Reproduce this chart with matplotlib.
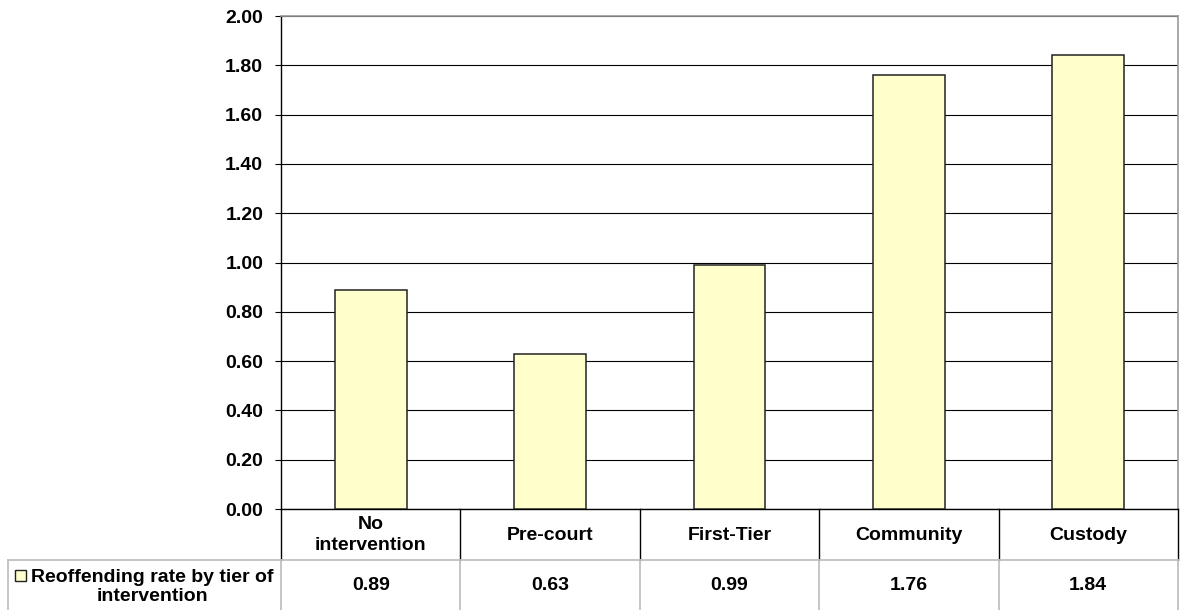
import matplotlib
matplotlib.use("Agg")
import matplotlib.pyplot as plt
from matplotlib.lines import Line2D
from matplotlib.patches import Rectangle
import matplotlib.transforms as mtransforms

categories = ["No\nintervention", "Pre-court", "First-Tier", "Community", "Custody"]
values = [0.89, 0.63, 0.99, 1.76, 1.84]
series_name = "Reoffending rate by tier of\nintervention"
yticks = [0.0, 0.2, 0.4, 0.6, 0.8, 1.0, 1.2, 1.4, 1.6, 1.8, 2.0]

plt.rcParams['font.family'] = ['Liberation Sans', 'DejaVu Sans']
plt.rcParams['font.weight'] = 'bold'
FS = 14

W, H = 1186, 610
fig = plt.figure(figsize=(W / 100, H / 100), dpi=100)
left, right = 281 / W, 1178 / W
bottom, top = (H - 509) / H, (H - 16) / H
ax = fig.add_axes([left, bottom, right - left, top - bottom])

x = list(range(len(categories)))
ax.bar(x, values, width=0.4, color="#FFFFCC", edgecolor="#222222", linewidth=1.1, zorder=3)
ax.set_xlim(-0.5, len(categories) - 0.5)
ax.set_ylim(0, 2.0)
ax.set_yticks(yticks)
ax.set_yticklabels([f"{t:.2f}" for t in yticks], fontsize=FS, fontweight='bold')
ax.set_xticks([])
ax.tick_params(axis='y', direction='out', length=4.3, width=0.8, pad=8.5, colors='black')
ax.set_axisbelow(True)
ax.yaxis.grid(True, color='black', linewidth=0.8)
ax.spines['left'].set_color('black')
ax.spines['left'].set_linewidth(1.0)
ax.spines['bottom'].set_color('black')
ax.spines['bottom'].set_linewidth(1.0)
ax.spines['top'].set_color('#999999')
ax.spines['top'].set_linewidth(1.2)
ax.spines['right'].set_color('#999999')
ax.spines['right'].set_linewidth(1.2)

# Data table below the plot
trans = mtransforms.blended_transform_factory(ax.transData, fig.transFigure)
y_top = (H - 509) / H
y_mid = (H - 560) / H
y_bot = 0.0
n = len(categories)
for i in range(n + 1):
    xb = i - 0.5
    fig.add_artist(Line2D([xb, xb], [y_mid, y_top], transform=trans, color='black', linewidth=1.0))
    fig.add_artist(Line2D([xb, xb], [y_bot, y_mid], transform=trans, color='#BBBBBB', linewidth=1.2))
# horizontal separator
fig.add_artist(Line2D([8 / W, right], [y_mid, y_mid], transform=fig.transFigure, color='#BBBBBB', linewidth=1.2))
# legend cell left border
fig.add_artist(Line2D([8 / W, 8 / W], [y_bot, y_mid], transform=fig.transFigure, color='#BBBBBB', linewidth=1.2))

for i, (c, v) in enumerate(zip(categories, values)):
    fig.text(i, (H - 535) / H, c, transform=trans, ha='center', va='center',
             fontsize=FS, fontweight='bold', linespacing=1.25)
    fig.text(i, (H - 586) / H, f"{v:.2f}", transform=trans, ha='center', va='center',
             fontsize=FS, fontweight='bold')

# legend key
fig.add_artist(Rectangle((15 / W, (H - 581) / H), 11 / W, 11 / H, transform=fig.transFigure,
                         facecolor="#FFFFCC", edgecolor="#222222", linewidth=1.0))
fig.text(152 / W, (H - 587) / H, series_name, ha='center', va='center',
         fontsize=FS, fontweight='bold', linespacing=1.1)

fig.savefig("out.png", dpi=100)
